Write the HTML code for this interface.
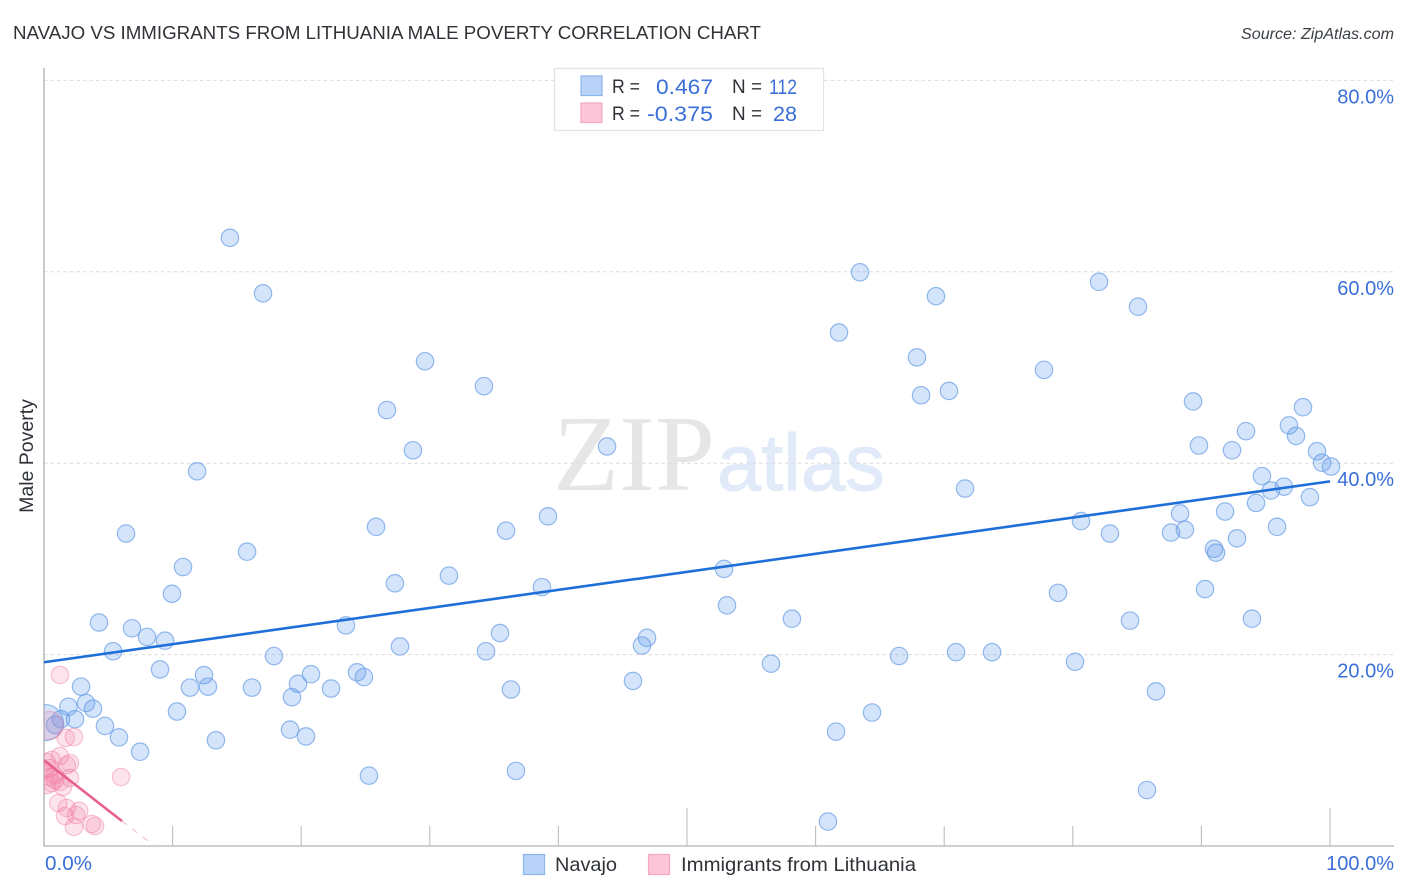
<!DOCTYPE html>
<html lang="en">
<head>
<meta charset="utf-8">
<title>Navajo vs Immigrants from Lithuania Male Poverty Correlation Chart</title>
<style>
html,body{margin:0;padding:0;background:#fff;}
svg{display:block;font-family:"Liberation Sans",sans-serif;}
</style>
</head>
<body>
<svg id="chart" xmlns="http://www.w3.org/2000/svg" width="1406" height="892" viewBox="0 0 1406 892">
  <defs><clipPath id="plot-clip"><rect x="44" y="60" width="1350" height="786"/></clipPath></defs>
  <rect width="1406" height="892" fill="#fff"/>
  <text x="13" y="39" font-size="18.6" fill="#2f3338" textLength="748" lengthAdjust="spacingAndGlyphs">NAVAJO VS IMMIGRANTS FROM LITHUANIA MALE POVERTY CORRELATION CHART</text>
  <text x="1394" y="39" font-size="16" font-style="italic" fill="#3a3f45" text-anchor="end" textLength="153" lengthAdjust="spacingAndGlyphs">Source: ZipAtlas.com</text>
  <g>
    <text x="553" y="490" style="font-family:'Liberation Serif',serif" font-size="108" fill="#e6e6e6">ZIP</text>
    <text x="717" y="490" style="font-family:'Liberation Sans',sans-serif" font-size="79.5" fill="#e0eaf9" stroke="#e0eaf9" stroke-width="1">atlas</text>
  </g>
  <g id="grid"></g>
  <g id="axes"></g>
  <g id="marks" clip-path="url(#plot-clip)"></g>
  <g id="trends"></g>
  <g id="labels"></g>
  <text transform="translate(33 456) rotate(-90)" font-size="19.5" fill="#2f3338" text-anchor="middle">Male Poverty</text>
  <g>
    <rect x="554.5" y="68.5" width="269" height="62" fill="#fff" stroke="#e2e2e2" stroke-width="1.2"/>
    <rect x="581" y="76" width="21" height="19.5" fill="#b8d3f7" stroke="#8cb4ea" stroke-width="1.2"/>
    <rect x="581" y="103" width="21" height="19.5" fill="#fdc6d8" stroke="#f2a9c0" stroke-width="1.2"/>
    <g font-size="19.5" fill="#2f3338">
      <text x="612" y="93" textLength="28" lengthAdjust="spacingAndGlyphs">R =</text>
      <text x="732" y="93" textLength="30" lengthAdjust="spacingAndGlyphs">N =</text>
      <text x="612" y="120" textLength="28" lengthAdjust="spacingAndGlyphs">R =</text>
      <text x="732" y="120" textLength="30" lengthAdjust="spacingAndGlyphs">N =</text>
    </g>
    <g font-size="21.5" fill="#3a6fd8">
      <text x="656" y="94" textLength="57" lengthAdjust="spacingAndGlyphs">0.467</text>
      <text x="769" y="94" textLength="28" lengthAdjust="spacingAndGlyphs">112</text>
      <text x="647" y="121" textLength="66" lengthAdjust="spacingAndGlyphs">-0.375</text>
      <text x="773" y="121" textLength="24" lengthAdjust="spacingAndGlyphs">28</text>
    </g>
  </g>
  <g>
    <rect x="523.5" y="854.5" width="21" height="20" fill="#b8d3f7" stroke="#8cb4ea" stroke-width="1.2"/>
    <text x="555" y="871" font-size="19.5" fill="#2f3338" textLength="62" lengthAdjust="spacingAndGlyphs">Navajo</text>
    <rect x="648.5" y="854.5" width="21" height="20" fill="#fdc6d8" stroke="#f2a9c0" stroke-width="1.2"/>
    <text x="681" y="871" font-size="19.5" fill="#2f3338" textLength="235" lengthAdjust="spacingAndGlyphs">Immigrants from Lithuania</text>
  </g>
</svg>
<script>
const yTicks = [20, 40, 60, 80];
const yTickLabels = ["20.0%", "40.0%", "60.0%", "80.0%"];
const xMinorTicks = [10, 20, 30, 40, 60, 70, 80, 90];
const xMajorTicks = [50, 100];
const xEndLabels = ["0.0%", "100.0%"];

const navajoX = [14.46,17.03,63.45,69.36,82.04,85.07,61.82,67.88,29.63,77.76,34.21,70.37,68.2,26.67,89.35,97.9,96.81,97.36,93.47,89.81,92.38,28.69,43.78,98.99,99.38,100.08,11.9,94.71,95.41,96.42,71.62,94.25,98.44,88.34,91.84,39.19,80.64,25.82,35.93,95.88,87.64,88.72,82.89,6.38,92.77,90.98,91.14,15.79,10.81,52.88,31.49,27.29,38.72,9.95,78.85,90.28,53.11,58.16,84.45,93.93,4.28,23.48,6.84,8.01,9.41,35.46,46.89,46.5,27.68,5.37,34.37,17.88,66.49,70.92,73.72,80.17,56.53,9.02,24.34,24.88,12.44,20.76,19.75,45.8,2.88,11.35,12.75,16.17,22.32,36.31,86.47,19.28,3.27,3.81,1.9,10.34,64.39,2.41,1.32,4.74,0.86,19.13,5.83,20.37,61.59,13.37,7.47,25.27,36.7,85.77,60.96];
const navajoY = [63.55,57.75,59.95,57.45,58.95,56.35,53.65,51.05,50.65,49.75,48.05,47.55,47.1,45.55,46.45,45.85,43.95,42.85,43.35,41.85,41.35,41.35,41.75,41.25,40.05,39.65,39.15,38.65,37.15,37.55,37.35,35.85,36.45,34.75,34.95,34.45,33.95,33.35,32.95,33.35,32.75,33.05,32.65,32.65,32.15,31.05,30.65,30.75,29.15,28.95,28.25,27.45,27.05,26.35,26.45,26.85,25.15,23.75,23.55,23.75,23.35,23.05,22.75,21.85,21.45,22.25,21.75,20.95,20.85,20.35,20.35,19.85,19.85,20.25,20.25,19.25,19.05,18.45,18.15,17.65,17.85,17.95,16.95,17.25,16.65,16.55,16.65,16.55,16.45,16.35,16.15,15.55,14.95,14.35,14.55,14.05,13.95,13.25,13.25,12.55,12.65,12.15,11.35,11.45,11.95,11.05,9.85,7.35,7.85,5.85,2.55];
const lithuaniaX = [1.24,2.33,1.69,5.99,0.6,1.24,2.02,1.77,0.47,2.02,0.86,1.48,0.6,1.11,1.77,1.63,2.74,2.49,2.33,3.71,3.97,0.21,0.41,0.86,1.24,0.23,0.08];
const lithuaniaY = [17.87,11.39,11.29,7.21,8.99,9.4,8.67,8.46,8.15,7.11,6.9,6.17,6.58,4.49,3.97,3.13,3.66,3.24,1.99,2.3,2.09,8.78,7.21,7.42,6.69,6.37,7.94];
const navajoLargeX = [0.1];
const navajoLargeY = [12.9];
const lithuaniaLargeX = [0.4];
const lithuaniaLargeY = [12.6];

const navajoTrendX = [0, 100];
const navajoTrendY = [19.2, 38.1];
const lithuaniaTrendX = [0, 6.07];
const lithuaniaTrendY = [8.95, 2.6];
const lithuaniaDashX = [6.07, 8.6];
const lithuaniaDashY = [2.6, 0];

const NS = "http://www.w3.org/2000/svg";
const xPos = v => 44 + v * 12.86;
const yPos = v => 846 - v * 9.57;
const make = (parent, tag, attrs) => {
  const el = document.createElementNS(NS, tag);
  for (const k in attrs) el.setAttribute(k, attrs[k]);
  document.getElementById(parent).appendChild(el);
  return el;
};

yTicks.forEach((t, i) => {
  const line = make("grid", "line", {x1: 44, x2: 1394, y1: yPos(t), y2: yPos(t), stroke: "#dcdcdc", "stroke-width": 1, "stroke-dasharray": "3.5 3"});
  
  
  const lab = make("labels", "text", {x: 1394, y: yPos(t) + 23, "font-size": 20, fill: "#3a6fd8", "text-anchor": "end"});
  lab.textContent = yTickLabels[i];
  
  
});

const yAxis = make("axes", "line", {x1: 44, x2: 44, y1: 68, y2: 846, stroke: "#adadad", "stroke-width": 1.3});


const xAxis = make("axes", "line", {x1: 43.4, x2: 1394, y1: 846, y2: 846, stroke: "#b4b4b4", "stroke-width": 1.3});


xMinorTicks.forEach(t => {
  const tick = make("axes", "line", {x1: xPos(t), x2: xPos(t), y1: 826, y2: 846, stroke: "#bdbdbd", "stroke-width": 1.1});
  
  
});
xMajorTicks.forEach(t => {
  const tick = make("axes", "line", {x1: xPos(t), x2: xPos(t), y1: 808, y2: 846, stroke: "#bdbdbd", "stroke-width": 1.1});
  
  
});

const xLabelLeft = make("labels", "text", {x: 45, y: 870, "font-size": 20, fill: "#3a6fd8", textLength: 47, lengthAdjust: "spacingAndGlyphs"});
xLabelLeft.textContent = xEndLabels[0];


const xLabelRight = make("labels", "text", {x: 1394, y: 870, "font-size": 20, fill: "#3a6fd8", "text-anchor": "end"});
xLabelRight.textContent = xEndLabels[1];



const blueStyle = {fill: "#5a96ea", "fill-opacity": 0.26, stroke: "#6c9fe6", "stroke-opacity": 0.72, "stroke-width": 1.2};
const pinkStyle = {fill: "#f5789e", "fill-opacity": 0.2, stroke: "#ef8aa9", "stroke-opacity": 0.5, "stroke-width": 1.2};

navajoLargeX.forEach((v, i) => {
  const c = make("marks", "circle", Object.assign({cx: xPos(v), cy: yPos(navajoLargeY[i]), r: 18}, blueStyle));
  
  
});
navajoX.forEach((v, i) => {
  const c = make("marks", "circle", Object.assign({cx: xPos(v), cy: yPos(navajoY[i]), r: 8.7}, blueStyle));
  
  
});
lithuaniaLargeX.forEach((v, i) => {
  const c = make("marks", "circle", Object.assign({cx: xPos(v), cy: yPos(lithuaniaLargeY[i]), r: 14}, pinkStyle));
  
  
});
lithuaniaX.forEach((v, i) => {
  const c = make("marks", "circle", Object.assign({cx: xPos(v), cy: yPos(lithuaniaY[i]), r: 8.7}, pinkStyle));
  
  
});

const navajoTrend = make("trends", "line", {x1: xPos(navajoTrendX[0]), y1: yPos(navajoTrendY[0]), x2: xPos(navajoTrendX[1]), y2: yPos(navajoTrendY[1]), stroke: "#1f6fd8", "stroke-width": 2.6});


const lithuaniaTrend = make("trends", "line", {x1: xPos(lithuaniaTrendX[0]), y1: yPos(lithuaniaTrendY[0]), x2: xPos(lithuaniaTrendX[1]), y2: yPos(lithuaniaTrendY[1]), stroke: "#e8608c", "stroke-width": 2.6});


const lithuaniaDash = make("trends", "line", {x1: xPos(lithuaniaDashX[0]), y1: yPos(lithuaniaDashY[0]), x2: xPos(lithuaniaDashX[1]), y2: yPos(lithuaniaDashY[1]), stroke: "#f2b6c8", "stroke-width": 1, "stroke-dasharray": "6 7"});


</script>
</body>
</html>
